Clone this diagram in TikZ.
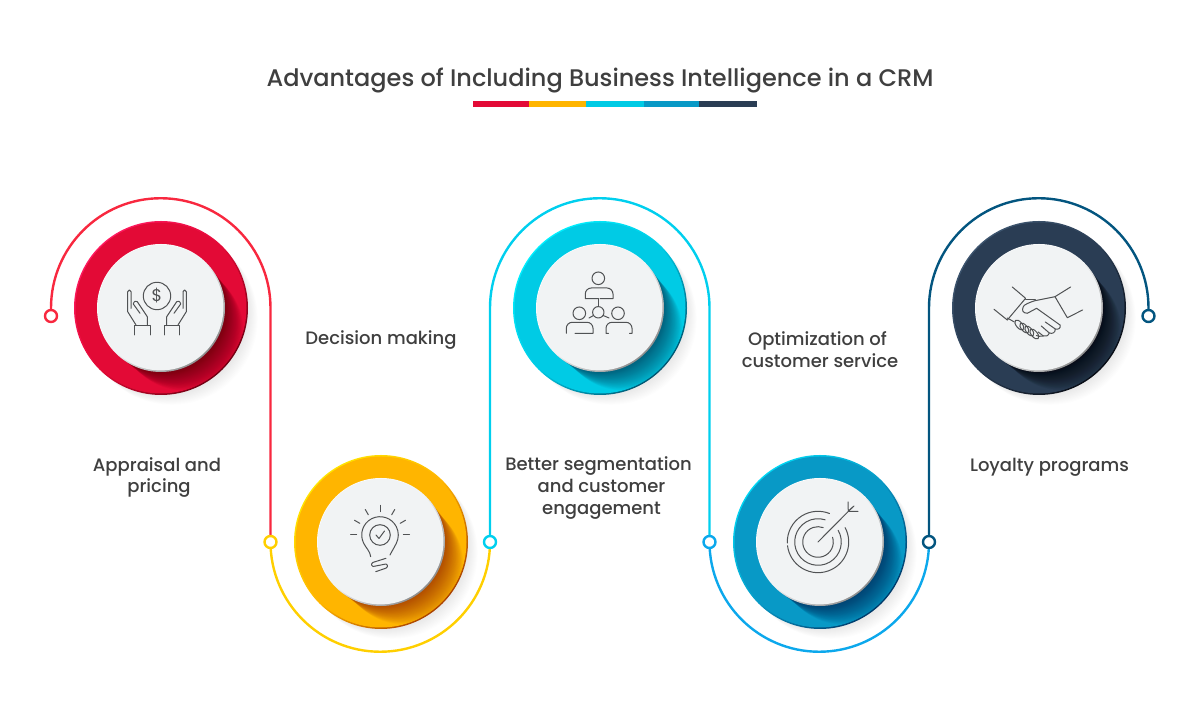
\documentclass[tikz,border=0pt]{standalone}
\usepackage{fontspec}
\setmainfont{Poppins}
\newfontfamily\medfont{Poppins Medium}
\usetikzlibrary{calc, backgrounds}

\definecolor{rubyMain}{HTML}{E30A36}
\definecolor{rubyLite}{HTML}{FF1A60}
\definecolor{rubyDark}{HTML}{6E0012}
\definecolor{rubyLine}{HTML}{F8283F}
\definecolor{amberMain}{HTML}{FFB500}
\definecolor{amberLite}{HTML}{FFE600}
\definecolor{amberDark}{HTML}{A84000}
\definecolor{amberLine}{HTML}{FFCF00}
\definecolor{aquaMain}{HTML}{00CBE5}
\definecolor{aquaLite}{HTML}{00F0FF}
\definecolor{aquaDark}{HTML}{005470}
\definecolor{aquaLine}{HTML}{00CFEE}
\definecolor{oceanMain}{HTML}{0899C6}
\definecolor{oceanLite}{HTML}{00D8F5}
\definecolor{oceanDark}{HTML}{003868}
\definecolor{oceanLine}{HTML}{0CA8EC}
\definecolor{navyMain}{HTML}{2A3D54}
\definecolor{navyLite}{HTML}{3E5670}
\definecolor{navyDark}{HTML}{080C14}
\definecolor{navyLine}{HTML}{03557F}
\definecolor{inkGray}{HTML}{3F3F3F}
\definecolor{iconGray}{HTML}{505254}
\definecolor{faceGray}{HTML}{F1F3F4}

\tikzset{
    outerdisc/.style={circle, minimum size=174pt, inner sep=0pt},
    ringface/.style={circle, minimum size=171pt, inner sep=0pt},
    innerdisc/.style={circle, minimum size=128pt, inner sep=0pt, shading=axis, top color=white, bottom color=black!45, middle color=faceGray, shading angle=45},
    innerface/.style={circle, minimum size=125.6pt, inner sep=0pt, fill=faceGray},
    dot/.style={circle, draw=#1, line width=2.4pt, fill=white, minimum size=12pt, inner sep=0pt},
    wire/.style={line width=2.4pt},
    icon/.style={draw=iconGray, line width=1pt, line cap=round, line join=round},
    caption/.style={font=\medfont\fontsize{18}{21.6}\selectfont, text=inkGray, align=center},
    barpiece/.style={minimum height=5.5pt, inner sep=0pt, outer sep=0pt}
}

% disc with its cast shadow: name, x, y, colour prefix
\newcommand{\badge}[4]{
    \foreach \k in {1,...,12}
        \fill[black, opacity=.009] ({#2+\k*0.9},{#3-\k*0.9}) circle (86);
    \node[outerdisc, shading=axis, top color=#4Lite, bottom color=#4Dark, middle color=#4Main, shading angle=45] (outer#1) at (#2,#3) {};
    \node[ringface, fill=#4Main] (ring#1) at (#2,#3) {};
    \begin{scope}
        \clip (#2,#3) circle (85.5);
        \foreach \k in {1,...,36}
            \fill[#4Dark, opacity=.042] ({#2+0.3*\k+0.0085*\k*\k},{#3-0.3*\k-0.0085*\k*\k}) circle ({64-\k*0.1});
    \end{scope}
    \node[innerdisc] (inner#1) at (#2,#3) {};
    \node[innerface] (face#1) at ($(#2,#3)+(-0.4,0.4)$) {};
}

\begin{document}
\begin{tikzpicture}[x=1pt, y=1pt]
    \useasboundingbox (0,0) rectangle (1200,719);

    % heading and colour bar
    \node[font=\medfont\fontsize{24}{28}\selectfont, text=inkGray] (title) at (600,638.5) {Advantages of Including Business Intelligence in a CRM};
    \node[barpiece, fill=rubyMain, minimum width=57pt] (barA) at (501.5,615.2) {};
    \node[barpiece, fill=amberMain, minimum width=57pt] (barB) at (557.5,615.2) {};
    \node[barpiece, fill=aquaMain, minimum width=58pt] (barC) at (615,615.2) {};
    \node[barpiece, fill=oceanMain, minimum width=56pt] (barD) at (671.5,615.2) {};
    \node[barpiece, fill=navyMain, minimum width=58pt] (barE) at (728,615.2) {};

    % the five discs
    \badge{A}{161}{411}{ruby}
    \badge{B}{381}{177}{amber}
    \badge{C}{600}{411}{aqua}
    \badge{D}{820}{177}{ocean}
    \badge{E}{1039}{411}{navy}

    % junction dots
    \node[dot=rubyLine] (dotA) at (51,403) {};
    \node[dot=amberLine] (dotB) at (270.5,177) {};
    \node[dot=aquaLine] (dotC) at (490,177) {};
    \node[dot=oceanLine] (dotD) at (709.5,177) {};
    \node[dot=navyLine] (dotE) at (929,177) {};
    \node[dot=navyLine] (dotF) at (1148.5,403) {};

    % connectors run behind the dots
    \begin{scope}[on background layer]
        \draw[wire, rubyLine] (dotA.center) -- (51,411) arc[start angle=180, end angle=0, radius=109.75] -- (dotB.center);
        \draw[wire, amberLine] (dotB.center) arc[start angle=180, end angle=360, radius=109.75] -- (dotC.center);
        \draw[wire, aquaLine] (dotC.center) -- (490,411) arc[start angle=180, end angle=0, radius=109.75] -- (dotD.center);
        \draw[wire, oceanLine] (dotD.center) arc[start angle=180, end angle=360, radius=109.75] -- (dotE.center);
        \draw[wire, navyLine] (dotE.center) -- (929,411) arc[start angle=180, end angle=0, radius=109.75] -- (dotF.center);
    \end{scope}

    % captions
    \node[caption] (capA) at (157,241.5) {Appraisal and\\\hspace*{4pt}pricing};
    \node[caption] (capB) at (381,378.5) {Decision making};
    \node[caption] (capC) at (598.5,231) {Better segmentation\\\hspace*{6pt}and customer\\\hspace*{6pt}engagement};
    \node[caption] (capD) at (820,369.5) {Optimization of\hspace*{5pt}\\customer service};
    \node[caption] (capE) at (1049.5,252) {Loyalty programs};

    % hands holding a coin
    \begin{scope}[shift={(157,423)}]
        \draw[icon] (0,0) circle (13.7);
        \node[font=\fontsize{17}{17}\selectfont, text=iconGray, inner sep=0pt] (coin) at (0,0) {\$};
        \foreach \side in {1,-1} {
            \begin{scope}[xscale=\side]
                \draw[icon] (-21,-29) -- (-29.3,-15.7) -- (-29.3,4.3) arc[start angle=180, end angle=0, radius=1.65] -- (-26,-12.3);
                \draw[icon] (-17,-17.3) -- (-23.7,-8) .. controls (-23,-5) and (-21,-4.5) .. (-19.7,-5.7) -- (-9.7,-20.7) -- (-9.7,-29.7);
                \draw[icon] (-22.7,-39) -- (-22.7,-29.7) -- (-7,-29.7) -- (-7,-39);
            \end{scope}
        }
    \end{scope}

    % light bulb with a tick
    \begin{scope}[shift={(380,184)}]
        \draw[icon] (0,0) circle (10.3);
        \draw[icon] (-4,0) -- (-1,-3.5) -- (4.5,4);
        \draw[icon] (-9.3,-21.7) .. controls (-10,-16) and (-14,-13) .. (-16.3,-8.3) arc[start angle=207, end angle=-27, radius=18.3] .. controls (14,-13) and (12,-16) .. (10,-20);
        \foreach \ang in {0,30,...,180}
            \draw[icon] (\ang:23.3) -- (\ang:29.5);
        \draw[icon] (6,-23.3) -- (-7,-27.4) arc[start angle=110, end angle=250, radius=2.2] -- (6,-29) arc[start angle=70, end angle=-70, radius=2.2] -- (-4.3,-36.7);
    \end{scope}

    % three people and a hub
    \begin{scope}[shift={(600,411)}]
        \draw[icon] (-1.7,29.7) circle (6.3);
        \draw[icon] (-1.7,9.3) -- (-14.7,9.3) -- (-14.7,14) arc[start angle=180, end angle=90, radius=6] -- (7,20) arc[start angle=90, end angle=0, radius=6] -- (13,9.3) -- (0,9.3);
        \draw[icon] (-1.7,9.3) -- (-1.7,1.4);
        \draw[icon] (-1.7,-4.3) circle (5.7);
        \draw[icon] (-6.5,-7.5) -- (-11,-10);
        \draw[icon] (3.2,-7.5) -- (9,-10);
        \draw[icon] (-20.7,-5.3) circle (6.3);
        \draw[icon] (18,-5.3) circle (6.3);
        \draw[icon] (-25,-25.3) -- (-7,-25.3) -- (-7,-20.3) arc[start angle=0, end angle=90, radius=6] -- (-27.7,-14.3) arc[start angle=90, end angle=180, radius=6] -- (-33.7,-25.3);
        \draw[icon] (8.5,-25.3) -- (6,-25.3) -- (6,-20.3) arc[start angle=180, end angle=90, radius=6] -- (26,-14.3) arc[start angle=90, end angle=0, radius=6] -- (32,-25.3) -- (29.5,-25.3);
    \end{scope}

    % target with an arrow
    \begin{scope}[shift={(818,177)}]
        \draw[icon] (18:15.3) arc[start angle=18, end angle=-290, radius=15.3];
        \draw[icon] (30:23.3) arc[start angle=30, end angle=-288, radius=23.3];
        \draw[icon] (28:30.7) arc[start angle=28, end angle=-173, radius=30.7];
        \draw[icon] (-178:30.7) arc[start angle=-178, end angle=-292, radius=30.7];
        \draw[icon] (0,0) -- (33.7,34);
        \draw[icon] (30,40) -- (30.3,30.7) -- (40,30.7);
        \draw[icon] (36,36) -- (30.3,30.7);
    \end{scope}

    % handshake
    \begin{scope}[shift={(1038.3,411)}]
        \draw[icon] (-26,21) -- (-12.7,9.7) -- (-31,-12);
        \draw[icon] (-44.3,-1.3) -- (-31,-12);
        \draw[icon] (32.3,21) -- (16.7,11.3) -- (29,-9.7) -- (44.3,-2);
        \draw[icon] (16.7,11.3) -- (-3.3,7.3) .. controls (-8,6) and (-15,3) .. (-15,1.3) .. controls (-17,-3) and (-15,-5) .. (-11,-5.3) -- (-1.7,-0.3) -- (21.7,-17);
        \draw[icon] (-12.7,8) -- (-3,8);
        \draw[icon] (-31,-10) -- (-24,-14);
        \foreach \px/\py in {-19/-17,-14/-20,-9/-23,-4/-26}
            \draw[icon, rotate around={-50:(\px,\py)}] (\px,\py) ellipse (6 and 3);
        \draw[icon] (21.7,-17) .. controls (23,-20) and (20,-22) .. (17,-21) -- (7,-14);
        \draw[icon] (17,-21) .. controls (17,-25) and (14,-26) .. (11,-25) -- (3,-18);
        \draw[icon] (11,-25) .. controls (10,-28) and (7,-29) .. (5,-28) -- (0,-24);
        \draw[icon] (5,-28) .. controls (2,-29) and (0,-28) .. (-2,-27.5);
    \end{scope}
\end{tikzpicture}
\end{document}
